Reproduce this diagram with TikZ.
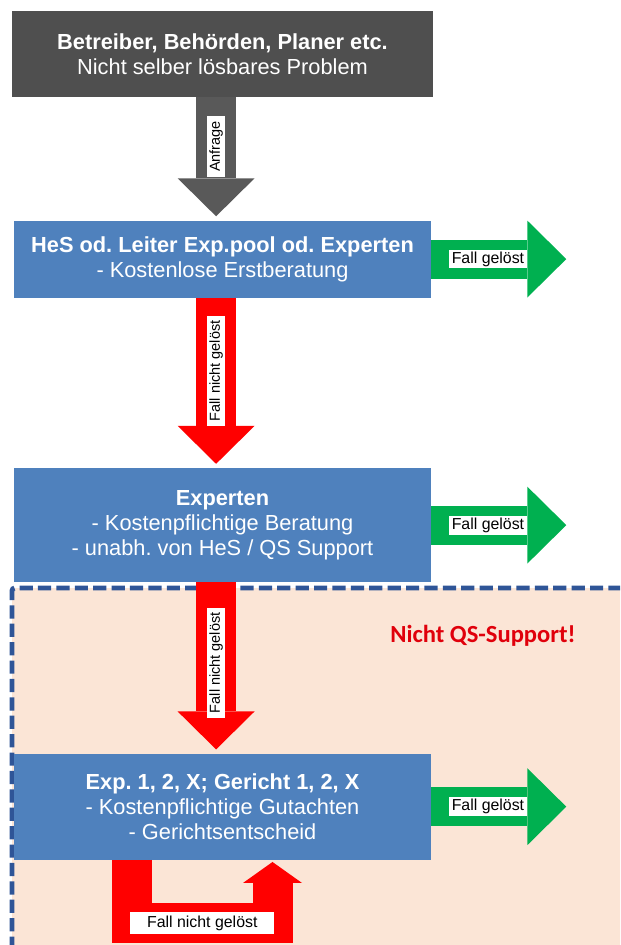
\documentclass[tikz,border=0pt]{standalone}
\usepackage{fontspec}
\setmainfont{Liberation Sans}
\newfontfamily\carlito{Carlito}
\frenchspacing
\usetikzlibrary{positioning,arrows.meta}
\definecolor{boxgray}{HTML}{4F4F4F}
\definecolor{arrowgray}{HTML}{595959}
\definecolor{boxblue}{HTML}{4F81BD}
\definecolor{okgreen}{HTML}{00B050}
\definecolor{failred}{HTML}{FF0000}
\definecolor{zonefill}{HTML}{FBE5D6}
\definecolor{zoneline}{HTML}{2F5597}
\definecolor{notered}{HTML}{E0000B}
\tikzset{main node/.style={rectangle,fill=boxblue,text=white,minimum width=10.425cm,align=center,inner sep=0pt,font=\fontsize{15.5}{17.8}\selectfont},
            top node/.style={main node,fill=boxgray,minimum width=10.525cm,minimum height=2.15cm},
            down arrow/.style={line width=1cm,-{Triangle[width=1.925cm,length=0.95cm,line width=0pt]},shorten >=0.1cm},
            ok arrow/.style={okgreen,line width=0.975cm,-{Triangle[width=1.925cm,length=0.975cm,line width=0pt]}},
            tag node/.style={fill=white,text=black,inner xsep=0.06cm,inner ysep=0.05cm,font=\fontsize{11.3}{12}\selectfont},
            vtag node/.style={tag node,rotate=90,inner xsep=0.12cm,font=\fontsize{10.3}{11}\selectfont},
            }

\begin{document}
\begin{tikzpicture}
    \useasboundingbox (0,0) rectangle (15.5,-23.625);
    \clip (0,0) rectangle (15.5,-23.625);

    % Bereich ohne QS-Support
    \fill[zonefill] (0.3,-14.7) rectangle (16,-24);
    \draw[zoneline,line width=3.5pt,dash pattern=on 0.33cm off 0.13cm,rounded corners=2pt] (16,-14.7) -- (0.3,-14.7) -- (0.3,-24);

    \node[top node] (1) at (5.5625,-1.35) {\textbf{Betreiber, Behörden, Planer etc.}\\Nicht selber lösbares Problem};
    \node[main node,minimum height=1.925cm] (2) [below=3.075cm of 1] {\textbf{HeS od. Leiter Exp.pool od. Experten}\\- Kostenlose Erstberatung};
    \node[main node,minimum height=2.85cm] (3) [below=4.25cm of 2] {\textbf{Experten}\\- Kostenpflichtige Beratung\\- unabh. von HeS / QS Support};
    \node[main node,minimum height=2.65cm] (4) [below=4.275cm of 3] {\textbf{Exp. 1, 2, X; Gericht 1, 2, X}\\- Kostenpflichtige Gutachten\\- Gerichtsentscheid};

    \node[text=notered,font=\carlito\bfseries\fontsize{17.5}{20}\selectfont] (10) at (12.075,-15.9) {Nicht QS-Support!};

    \coordinate (5) at ([xshift=3.375cm]2.east);
    \coordinate (6) at ([xshift=3.375cm]3.east);
    \coordinate (7) at ([xshift=3.375cm]4.east);
    \coordinate (8) at ([xshift=-2.26cm]4.south);
    \coordinate (9) at ([xshift=1.25cm]4.south);

    \draw[arrowgray,down arrow] ([xshift=-0.16cm]1.south) -- node[vtag node,pos=0.4] {Anfrage} ([xshift=-0.16cm]2.north);
    \draw[failred,down arrow] ([xshift=-0.16cm]2.south) -- node[vtag node,pos=0.43] {Fall nicht gelöst} ([xshift=-0.16cm]3.north);
    \draw[failred,down arrow] ([xshift=-0.16cm]3.south) -- node[vtag node,pos=0.47] {Fall nicht gelöst} ([xshift=-0.16cm]4.north);

    \draw[ok arrow] (2.east) -- node[tag node,pos=0.42] {Fall gelöst} (5);
    \draw[ok arrow] (3.east) -- node[tag node,pos=0.42] {Fall gelöst} (6);
    \draw[ok arrow] (4.east) -- node[tag node,pos=0.42] {Fall gelöst} (7);

    \draw[failred,line width=1cm,-{Triangle[width=1.475cm,length=0.525cm,line width=0pt]},shorten >=0.05cm]
    (8) -- ++(0,-1.575) -| node[tag node,pos=0.25,inner xsep=0.42cm,inner ysep=0.08cm] {Fall nicht gelöst} (9);

\end{tikzpicture}
\end{document}
